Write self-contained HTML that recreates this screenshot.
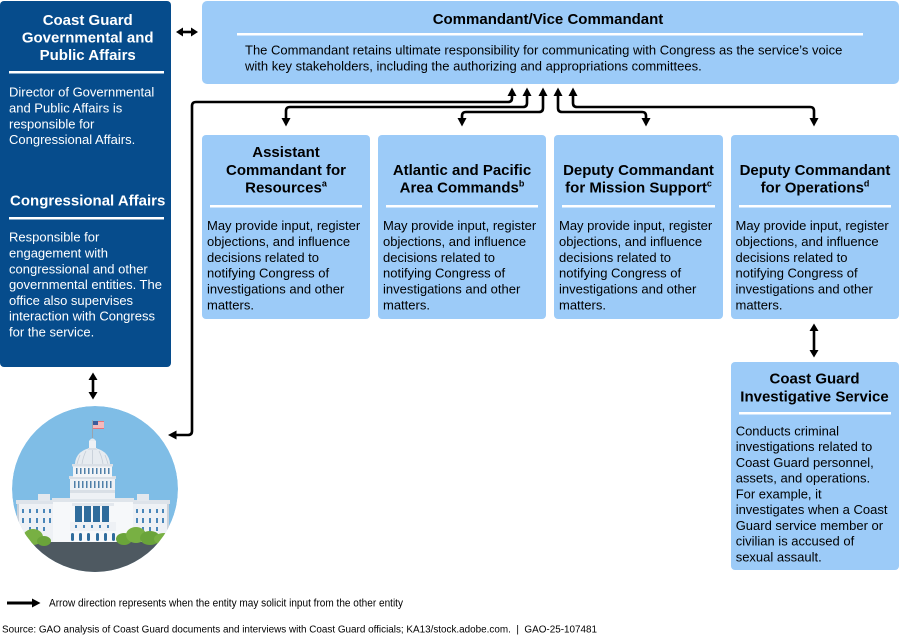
<!DOCTYPE html>
<html>
<head>
<meta charset="utf-8">
<style>
html,body{margin:0;padding:0;background:#fff;}
svg{display:block;}
text{font-family:"Liberation Sans",Arial,sans-serif;}
.t{font-size:15px;font-weight:bold;fill:#000;text-anchor:middle;}
.tw{font-size:15px;font-weight:bold;fill:#fff;text-anchor:middle;}
.b{font-size:13px;fill:#000;}
.bw{font-size:13px;fill:#fff;}
.sup{font-size:9px;}
</style>
</head>
<body>
<svg width="899" height="636" viewBox="0 0 899 636" xmlns="http://www.w3.org/2000/svg">
<defs>
<clipPath id="cc"><circle cx="95" cy="489" r="83"/></clipPath>
</defs>

<!-- Left dark box -->
<rect x="0" y="1" width="171" height="366" rx="4" fill="#064c8c"/>
<text class="tw" x="87.7" y="25">Coast Guard</text>
<text class="tw" x="87.7" y="42.5">Governmental and</text>
<text class="tw" x="87.7" y="60">Public Affairs</text>
<rect x="9" y="71" width="155" height="2.5" fill="#fff"/>
<text class="bw" x="9" y="96.5">Director of Governmental</text>
<text class="bw" x="9" y="112.5">and Public Affairs is</text>
<text class="bw" x="9" y="128.3">responsible for</text>
<text class="bw" x="9" y="144.2">Congressional Affairs.</text>
<text class="tw" x="87.7" y="205.5">Congressional Affairs</text>
<rect x="9" y="217" width="155" height="2.5" fill="#fff"/>
<text class="bw" x="9" y="241.7">Responsible for</text>
<text class="bw" x="9" y="257.5">engagement with</text>
<text class="bw" x="9" y="273.3">congressional and other</text>
<text class="bw" x="9" y="289.1">governmental entities. The</text>
<text class="bw" x="9" y="304.9">office also supervises</text>
<text class="bw" x="9" y="320.7">interaction with Congress</text>
<text class="bw" x="9" y="336.5">for the service.</text>

<!-- Commandant box -->
<rect x="202" y="1" width="697" height="83" rx="5" fill="#9ccbf8"/>
<text class="t" x="548" y="24">Commandant/Vice Commandant</text>
<rect x="237" y="33" width="626" height="2.5" fill="#fff"/>
<text class="b" x="245" y="54.5">The Commandant retains ultimate responsibility for communicating with Congress as the service’s voice</text>
<text class="b" x="245" y="70.5">with key stakeholders, including the authorizing and appropriations committees.</text>

<!-- Four boxes -->
<rect x="202" y="135" width="168" height="184" rx="4" fill="#9ccbf8"/>
<rect x="378" y="135" width="168" height="184" rx="4" fill="#9ccbf8"/>
<rect x="554" y="135" width="169" height="184" rx="4" fill="#9ccbf8"/>
<rect x="731" y="135" width="168" height="184" rx="4" fill="#9ccbf8"/>

<text class="t" x="286" y="157">Assistant</text>
<text class="t" x="286" y="175">Commandant for</text>
<text class="t" x="286" y="192.5">Resources<tspan class="sup" dy="-6">a</tspan></text>

<text class="t" x="462" y="175">Atlantic and Pacific</text>
<text class="t" x="462" y="192.5">Area Commands<tspan class="sup" dy="-6">b</tspan></text>

<text class="t" x="638.5" y="175">Deputy Commandant</text>
<text class="t" x="638.5" y="192.5">for Mission Support<tspan class="sup" dy="-6">c</tspan></text>

<text class="t" x="815" y="175">Deputy Commandant</text>
<text class="t" x="815" y="192.5">for Operations<tspan class="sup" dy="-6">d</tspan></text>

<rect x="210" y="205" width="152" height="2.5" fill="#fff"/>
<rect x="386" y="205" width="152" height="2.5" fill="#fff"/>
<rect x="562" y="205" width="153" height="2.5" fill="#fff"/>
<rect x="739" y="205" width="152" height="2.5" fill="#fff"/>

<g>
<text class="b" x="207" y="230">May provide input, register</text>
<text class="b" x="207" y="245.9">objections, and influence</text>
<text class="b" x="207" y="261.8">decisions related to</text>
<text class="b" x="207" y="277.7">notifying Congress of</text>
<text class="b" x="207" y="293.6">investigations and other</text>
<text class="b" x="207" y="309.5">matters.</text>

<text class="b" x="383" y="230">May provide input, register</text>
<text class="b" x="383" y="245.9">objections, and influence</text>
<text class="b" x="383" y="261.8">decisions related to</text>
<text class="b" x="383" y="277.7">notifying Congress of</text>
<text class="b" x="383" y="293.6">investigations and other</text>
<text class="b" x="383" y="309.5">matters.</text>

<text class="b" x="559" y="230">May provide input, register</text>
<text class="b" x="559" y="245.9">objections, and influence</text>
<text class="b" x="559" y="261.8">decisions related to</text>
<text class="b" x="559" y="277.7">notifying Congress of</text>
<text class="b" x="559" y="293.6">investigations and other</text>
<text class="b" x="559" y="309.5">matters.</text>

<text class="b" x="735.5" y="230">May provide input, register</text>
<text class="b" x="735.5" y="245.9">objections, and influence</text>
<text class="b" x="735.5" y="261.8">decisions related to</text>
<text class="b" x="735.5" y="277.7">notifying Congress of</text>
<text class="b" x="735.5" y="293.6">investigations and other</text>
<text class="b" x="735.5" y="309.5">matters.</text>
</g>

<!-- CGIS box -->
<rect x="731" y="362" width="168" height="208" rx="4" fill="#9ccbf8"/>
<text class="t" x="814.5" y="383.5">Coast Guard</text>
<text class="t" x="814.5" y="401.5">Investigative Service</text>
<rect x="739" y="412" width="152" height="2.5" fill="#fff"/>
<text class="b" x="735.7" y="435.3">Conducts criminal</text>
<text class="b" x="735.7" y="451">investigations related to</text>
<text class="b" x="735.7" y="466.8">Coast Guard personnel,</text>
<text class="b" x="735.7" y="482.5">assets, and operations.</text>
<text class="b" x="735.7" y="498.3">For example, it</text>
<text class="b" x="735.7" y="514">investigates when a Coast</text>
<text class="b" x="735.7" y="529.8">Guard service member or</text>
<text class="b" x="735.7" y="545.5">civilian is accused of</text>
<text class="b" x="735.7" y="561.3">sexual assault.</text>

<!-- Connectors -->
<g fill="none" stroke="#000" stroke-width="2.6" stroke-linejoin="round">
  <path d="M512,95 V98 Q512,102 508,102 H196 Q192,102 192,106 V431 Q192,435 188,435 H174"/>
  <path d="M527,95 V103 Q527,107 523,107 H290 Q286,107 286,111 V119"/>
  <path d="M543,95 V108 Q543,112 539,112 H466 Q462,112 462,116 V119"/>
  <path d="M558,95 V108 Q558,112 562,112 H642 Q646,112 646,116 V119"/>
  <path d="M573,95 V103 Q573,107 577,107 H810 Q814,107 814,111 V119"/>
  <path d="M181,32 H192"/>
  <path d="M93,379 V393"/>
  <path d="M814,330 V351"/>
</g>
<g fill="#000">
  <polygon points="512,87.5 507.5,96 516.5,96"/>
  <polygon points="527,87.5 522.5,96 531.5,96"/>
  <polygon points="543,87.5 538.5,96 547.5,96"/>
  <polygon points="558,87.5 553.5,96 562.5,96"/>
  <polygon points="573,87.5 568.5,96 577.5,96"/>
  <polygon points="286,126.5 281.5,118 290.5,118"/>
  <polygon points="462,126.5 457.5,118 466.5,118"/>
  <polygon points="646,126.5 641.5,118 650.5,118"/>
  <polygon points="814,126.5 809.5,118 818.5,118"/>
  <polygon points="168,435 176.5,430.5 176.5,439.5"/>
  <polygon points="176,32 183,27.5 183,36.5"/>
  <polygon points="198,32 191,27.5 191,36.5"/>
  <polygon points="93,372.5 88.5,380 97.5,380"/>
  <polygon points="93,399.5 88.5,392 97.5,392"/>
  <polygon points="814,323.5 809.5,331 818.5,331"/>
  <polygon points="814,357.5 809.5,350 818.5,350"/>
</g>

<!-- Capitol illustration -->
<g clip-path="url(#cc)">
  <circle cx="95" cy="489" r="83" fill="#7fbde6"/>
  <rect x="0" y="542" width="200" height="40" fill="#4e5961"/>
  <!-- wings -->
  <rect x="17" y="501" width="37" height="41" fill="#eef1f5"/>
  <rect x="132" y="501" width="37" height="41" fill="#eef1f5"/>
  <rect x="16" y="500" width="39" height="4" fill="#dde3ea"/>
  <rect x="131" y="500" width="39" height="4" fill="#dde3ea"/>
  <rect x="38" y="494" width="12" height="7" fill="#e3e8ee"/>
  <rect x="137" y="494" width="12" height="7" fill="#e3e8ee"/>
  <rect x="17" y="504" width="2" height="36" fill="#c9d1da"/>
  <rect x="167" y="504" width="2" height="36" fill="#c9d1da"/>
  <g fill="#4a86b8">
    <rect x="22" y="509" width="2" height="4"/><rect x="29" y="509" width="2" height="4"/><rect x="36" y="509" width="2" height="4"/><rect x="43" y="509" width="2" height="4"/><rect x="49" y="509" width="2" height="4"/>
    <rect x="22" y="518" width="2" height="5"/><rect x="29" y="518" width="2" height="5"/><rect x="36" y="518" width="2" height="5"/><rect x="43" y="518" width="2" height="5"/><rect x="49" y="518" width="2" height="5"/>
    <rect x="29" y="527" width="2" height="4"/><rect x="36" y="527" width="2" height="4"/><rect x="43" y="527" width="2" height="4"/>
    <rect x="136" y="509" width="2" height="4"/><rect x="142" y="509" width="2" height="4"/><rect x="149" y="509" width="2" height="4"/><rect x="156" y="509" width="2" height="4"/><rect x="162" y="509" width="2" height="4"/>
    <rect x="136" y="518" width="2" height="5"/><rect x="142" y="518" width="2" height="5"/><rect x="149" y="518" width="2" height="5"/><rect x="156" y="518" width="2" height="5"/><rect x="162" y="518" width="2" height="5"/>
    <rect x="142" y="527" width="2" height="4"/><rect x="149" y="527" width="2" height="4"/><rect x="156" y="527" width="2" height="4"/>
    <rect x="60" y="509" width="2" height="4"/><rect x="60" y="518" width="2" height="5"/><rect x="60" y="527" width="2" height="4"/>
    <rect x="124" y="509" width="2" height="4"/><rect x="124" y="518" width="2" height="5"/><rect x="124" y="527" width="2" height="4"/>
  </g>
  <!-- center block -->
  <rect x="53" y="500" width="80" height="42" fill="#f6f8fa"/>
  <rect x="52" y="498" width="82" height="4" fill="#dfe5eb"/>
  <rect x="72" y="503" width="42" height="3" fill="#e3e8ee"/>
  <g fill="#2f6c9c">
    <rect x="75" y="506" width="7" height="16"/>
    <rect x="84" y="506" width="7" height="16"/>
    <rect x="93" y="506" width="7" height="16"/>
    <rect x="102" y="506" width="7" height="16"/>
  </g>
  <rect x="70" y="522" width="46" height="9" fill="#eef1f5"/>
  <g fill="#4a86b8">
    <rect x="75" y="525" width="2" height="3"/><rect x="83" y="525" width="2" height="3"/><rect x="91" y="525" width="2" height="3"/><rect x="99" y="525" width="2" height="3"/><rect x="107" y="525" width="2" height="3"/>
  </g>
  <g fill="#2f6c9c">
    <rect x="71" y="533" width="3" height="8" rx="1.5"/>
    <rect x="79" y="533" width="3" height="8" rx="1.5"/>
    <rect x="87" y="533" width="3" height="8" rx="1.5"/>
    <rect x="96" y="533" width="3" height="8" rx="1.5"/>
    <rect x="104" y="533" width="3" height="8" rx="1.5"/>
    <rect x="112" y="533" width="3" height="8" rx="1.5"/>
  </g>
  <!-- drum -->
  <rect x="70" y="477" width="45" height="22" fill="#eef1f5"/>
  <rect x="69" y="476" width="47" height="3" fill="#d9dfe6"/>
  <rect x="70" y="490" width="45" height="3" fill="#d9dfe6"/>
  <g fill="#4f7fa8">
    <rect x="74" y="481" width="1.5" height="7"/><rect x="78" y="481" width="1.5" height="7"/><rect x="82" y="481" width="1.5" height="7"/><rect x="86" y="481" width="1.5" height="7"/><rect x="90" y="481" width="1.5" height="7"/><rect x="94" y="481" width="1.5" height="7"/><rect x="98" y="481" width="1.5" height="7"/><rect x="102" y="481" width="1.5" height="7"/><rect x="106" y="481" width="1.5" height="7"/><rect x="110" y="481" width="1.5" height="7"/>
  </g>
  <rect x="73" y="465" width="39" height="12" fill="#f2f4f7"/>
  <rect x="72" y="464" width="41" height="2.5" fill="#d9dfe6"/>
  <g fill="#4f7fa8">
    <rect x="76" y="468" width="1.5" height="6"/><rect x="80" y="468" width="1.5" height="6"/><rect x="84" y="468" width="1.5" height="6"/><rect x="88" y="468" width="1.5" height="6"/><rect x="92" y="468" width="1.5" height="6"/><rect x="96" y="468" width="1.5" height="6"/><rect x="100" y="468" width="1.5" height="6"/><rect x="104" y="468" width="1.5" height="6"/><rect x="108" y="468" width="1.5" height="6"/>
  </g>
  <!-- dome -->
  <path d="M75,464 A17.5,16 0 0 1 110,464 Z" fill="#e6ebf0"/>
  <g stroke="#c3ccd6" stroke-width="0.8" fill="none">
    <path d="M92.5,449 V464"/><path d="M86,451 Q83,457 82,464"/><path d="M99,451 Q102,457 103,464"/>
    <path d="M80,455 Q78,460 77,464"/><path d="M105,455 Q107,460 108,464"/>
  </g>
  <rect x="89" y="441" width="7" height="9" fill="#eef1f5"/>
  <rect x="88" y="448" width="9" height="2" fill="#d9dfe6"/>
  <path d="M89,441 Q92.5,436 96,441 Z" fill="#e6ebf0"/>
  <!-- flag -->
  <rect x="92" y="420" width="1" height="18" fill="#9aa3ad"/>
  <rect x="93" y="421" width="11" height="8" fill="#e8737a"/>
  <rect x="93" y="422.5" width="11" height="1" fill="#fff"/>
  <rect x="93" y="424.5" width="11" height="1" fill="#fff"/>
  <rect x="93" y="426.5" width="11" height="1" fill="#fff"/>
  <rect x="93" y="421" width="5" height="4" fill="#3d5c9c"/>
  <!-- bushes (in front) -->
  <ellipse cx="20" cy="540" rx="9" ry="8" fill="#6aa43a"/>
  <ellipse cx="33" cy="537" rx="10" ry="8" fill="#78b043"/>
  <ellipse cx="44" cy="541" rx="7" ry="5" fill="#6aa43a"/>
  <ellipse cx="124" cy="539" rx="8" ry="6" fill="#6aa43a"/>
  <ellipse cx="136" cy="535" rx="10" ry="8" fill="#78b043"/>
  <ellipse cx="150" cy="538" rx="10" ry="7" fill="#6aa43a"/>
  <ellipse cx="164" cy="539" rx="10" ry="6" fill="#78b043"/>
</g>

<!-- Legend -->
<path d="M7,603 H34" stroke="#000" stroke-width="3" fill="none"/>
<polygon points="40.5,603 32,598.5 32,607.5" fill="#000"/>
<text x="49" y="606.5" font-size="11" textLength="354" lengthAdjust="spacingAndGlyphs" fill="#000">Arrow direction represents when the entity may solicit input from the other entity</text>
<text x="2" y="632.5" font-size="10" textLength="595" lengthAdjust="spacingAndGlyphs" fill="#000">Source: GAO analysis of Coast Guard documents and interviews with Coast Guard officials; KA13/stock.adobe.com.&#160;&#160;|&#160;&#160;GAO-25-107481</text>
</svg>
</body>
</html>
